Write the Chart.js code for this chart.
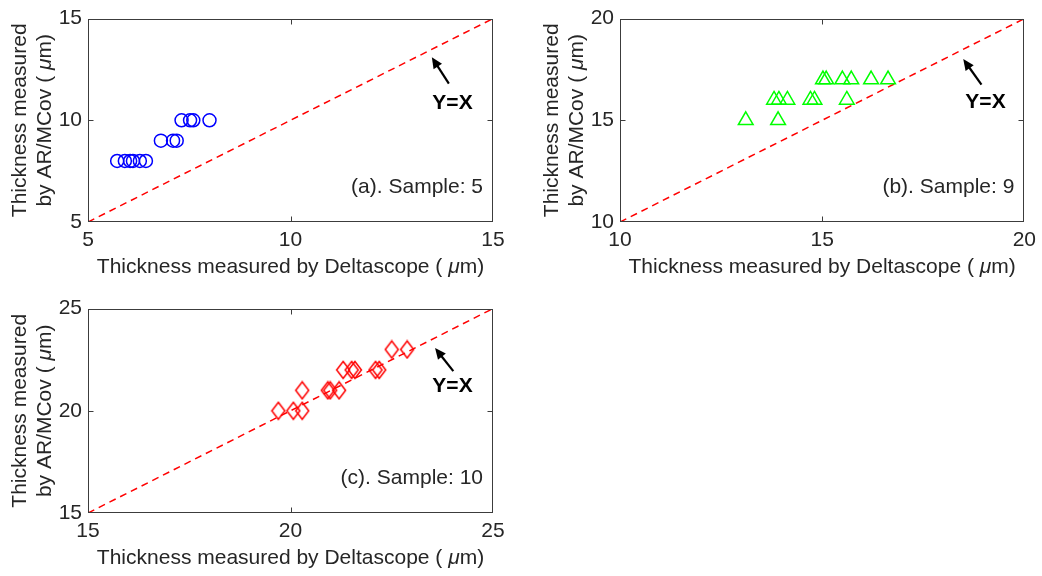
<!DOCTYPE html>
<html><head><meta charset="utf-8">
<script src="https://cdn.jsdelivr.net/npm/chart.js@4.4.1/dist/chart.umd.min.js"></script>
<style>
html,body{margin:0;padding:0;background:#fff;overflow:hidden;width:1042px;height:576px;}
.p{position:absolute;}
canvas{display:block;}
</style></head><body>
<div class="p" style="left:0;top:0;"><canvas id="ca" width="520" height="290"></canvas></div>
<div class="p" style="left:532px;top:0;"><canvas id="cb" width="510" height="290"></canvas></div>
<div class="p" style="left:0;top:290px;"><canvas id="cc" width="520" height="290"></canvas></div>
<script>
// ---- data ----
const sampleA_x = [5.72, 5.91, 6.04, 6.11, 6.28, 6.43, 6.8, 7.1, 7.19, 7.31, 7.52, 7.6, 8.0];
const sampleA_y = [8, 8, 8, 8, 8, 8, 9, 9, 9, 10, 10, 10, 10];
const sampleB_x = [13.11, 13.91, 13.81, 13.93, 14.14, 14.71, 14.81, 15.61, 15.02, 15.1, 15.5, 15.72, 16.21, 16.63];
const sampleB_y = [15, 15, 16, 16, 16, 16, 16, 16, 17, 17, 17, 17, 17, 17];
const sampleC_x = [19.70, 20.07, 20.29, 20.29, 20.92, 20.98, 21.2, 21.30, 21.51, 21.59, 22.1, 22.19, 22.5, 22.88];
const sampleC_y = [20, 20, 20, 21, 21, 21, 21, 22, 22, 22, 22, 22, 23, 23];
const ticksA = [5, 10, 15];
const ticksB = [10, 15, 20];
const ticksC = [15, 20, 25];
const labelA = '(a). Sample: 5';
const labelB = '(b). Sample: 9';
const labelC = '(c). Sample: 10';
const refLabel = 'Y=X';
// titles as segments: [text, italic]
const xTitle = [['Thickness measured by Deltascope (', false], [' \u03bc', true], ['m)', false]];
const yTitle1 = [['Thickness measured', false]];
const yTitle2 = [['by AR/MCov (', false], [' \u03bc', true], ['m)', false]];
// annotation anchors in data units: [arrow tail, arrow head, text]
const arrowA = [[13.91, 11.8], [13.49, 13.1], [14.0, 10.85]];
const arrowB = [[18.94, 16.75], [18.49, 18.01], [19.04, 15.9]];
const arrowC = [[24.02, 21.94], [23.57, 23.07], [24.0, 21.2]];

const FAM = "'Liberation Sans', Arial, Helvetica, sans-serif";
const TXT = '#262626';
const FS = 21;

function diamondImg(w, h, color, lw) {
  const c = document.createElement('canvas');
  c.width = Math.ceil(w + lw * 2); c.height = Math.ceil(h + lw * 2);
  const g = c.getContext('2d');
  const cx = c.width / 2, cy = c.height / 2;
  g.strokeStyle = color; g.lineWidth = lw;
  g.beginPath();
  g.moveTo(cx, cy - h / 2); g.lineTo(cx + w / 2, cy); g.lineTo(cx, cy + h / 2); g.lineTo(cx - w / 2, cy);
  g.closePath(); g.stroke();
  return c;
}

function drawSegs(ctx, segs, cx, cy) {
  const fonts = segs.map(s => (s[1] ? 'italic ' : '') + FS + 'px ' + FAM);
  let total = 0;
  const ws = segs.map((s, i) => { ctx.font = fonts[i]; const w = ctx.measureText(s[0]).width; total += w; return w; });
  let x = cx - total / 2;
  ctx.textAlign = 'left'; ctx.textBaseline = 'middle'; ctx.fillStyle = TXT;
  segs.forEach((s, i) => { ctx.font = fonts[i]; ctx.fillText(s[0], x, cy); x += ws[i]; });
}

const deco = {
  id: 'deco',
  afterDatasetsDraw(chart, args, o) {
    const {ctx, chartArea: a, scales: {x, y}} = chart;
    ctx.save();
    ctx.strokeStyle = '#3c3c3c'; ctx.lineWidth = 1;
    const L = Math.round(a.left) + 0.5, R = Math.round(a.right) - 0.5;
    const T = Math.round(a.top) + 0.5, B = Math.round(a.bottom) - 0.5;
    ctx.strokeRect(L, T, R - L, B - T);
    ctx.beginPath();
    x.ticks.forEach((t, i) => {
      if (i === 0 || i === x.ticks.length - 1) return;
      const px = Math.round(x.getPixelForValue(t.value)) + 0.5;
      ctx.moveTo(px, B); ctx.lineTo(px, B - 5);
      ctx.moveTo(px, T); ctx.lineTo(px, T + 5);
    });
    y.ticks.forEach((t, i) => {
      if (i === 0 || i === y.ticks.length - 1) return;
      const py = Math.round(y.getPixelForValue(t.value)) + 0.5;
      ctx.moveTo(L, py); ctx.lineTo(L + 5, py);
      ctx.moveTo(R, py); ctx.lineTo(R - 5, py);
    });
    ctx.stroke();
    // axis titles
    const cxm = (a.left + a.right) / 2, cym = (a.top + a.bottom) / 2;
    drawSegs(ctx, xTitle, cxm, a.bottom + 45.5);
    ctx.save(); ctx.translate(20, cym); ctx.rotate(-Math.PI / 2); drawSegs(ctx, yTitle1, 0, 0); ctx.restore();
    ctx.save(); ctx.translate(45, cym); ctx.rotate(-Math.PI / 2); drawSegs(ctx, yTitle2, 0, 0); ctx.restore();
    // sample label
    ctx.fillStyle = TXT;
    ctx.font = FS + 'px ' + FAM;
    ctx.textAlign = 'right'; ctx.textBaseline = 'middle';
    ctx.fillText(o.label, a.right - 10, a.bottom - 35);
    // arrow
    const [tl, hd, tp] = o.arrow;
    const x0 = x.getPixelForValue(tl[0]), y0 = y.getPixelForValue(tl[1]);
    const x1 = x.getPixelForValue(hd[0]), y1 = y.getPixelForValue(hd[1]);
    const ang = Math.atan2(y1 - y0, x1 - x0);
    const hl = 11, hw = 5;
    ctx.strokeStyle = '#000'; ctx.fillStyle = '#000'; ctx.lineWidth = 2.2;
    ctx.beginPath();
    ctx.moveTo(x0, y0);
    ctx.lineTo(x1 - Math.cos(ang) * hl * 0.8, y1 - Math.sin(ang) * hl * 0.8);
    ctx.stroke();
    ctx.beginPath();
    ctx.moveTo(x1, y1);
    ctx.lineTo(x1 - Math.cos(ang) * hl - Math.sin(ang) * hw, y1 - Math.sin(ang) * hl + Math.cos(ang) * hw);
    ctx.lineTo(x1 - Math.cos(ang) * hl + Math.sin(ang) * hw, y1 - Math.sin(ang) * hl - Math.cos(ang) * hw);
    ctx.closePath(); ctx.fill();
    ctx.fillStyle = '#000';
    ctx.font = 'bold ' + FS + 'px ' + FAM;
    ctx.textAlign = 'center'; ctx.textBaseline = 'middle';
    ctx.fillText(refLabel, x.getPixelForValue(tp[0]), y.getPixelForValue(tp[1]));
    ctx.restore();
  }
};

function panel(id, xs, ys, ticks, pt, label, arrow, padTop, xAxisH, padRight) {
  const font = {family: FAM, size: FS, lineHeight: 1.2};
  const pts = xs.map((v, i) => ({x: v, y: ys[i]}));
  const ref = [{x: ticks[0], y: ticks[0]}, {x: ticks[ticks.length - 1], y: ticks[ticks.length - 1]}];
  const mkScale = (isX) => ({
    type: 'linear',
    min: ticks[0], max: ticks[ticks.length - 1],
    afterBuildTicks: s => { s.ticks = ticks.map(v => ({value: v})); },
    afterFit: s => { if (isX) s.height = xAxisH; else s.width = 88; },
    grid: {display: false, drawTicks: false},
    border: {display: false},
    ticks: {font, color: TXT, padding: 6, maxRotation: 0, autoSkip: false},
    title: {display: false}
  });
  return new Chart(document.getElementById(id), {
    type: 'scatter',
    data: {
      datasets: [
        Object.assign({data: pts, showLine: false, order: 1, backgroundColor: 'rgba(0,0,0,0)'}, pt),
        {data: ref, showLine: true, borderColor: '#ff0000', borderWidth: 1.5, borderDash: [7, 5], pointRadius: 0, order: 2, fill: false}
      ]
    },
    options: {
      responsive: false, animation: false, devicePixelRatio: 1,
      layout: {padding: {top: padTop, right: padRight, left: 0, bottom: 0}},
      plugins: {legend: {display: false}, tooltip: {enabled: false}, deco: {label, arrow}},
      scales: {x: mkScale(true), y: mkScale(false)}
    },
    plugins: [deco]
  });
}

panel('ca', sampleA_x, sampleA_y, ticksA,
  {pointStyle: 'circle', pointRadius: 6.5, borderColor: '#0000ff', pointBorderWidth: 1.5, borderWidth: 1.5},
  labelA, arrowA, 16, 68, 27);
panel('cb', sampleB_x, sampleB_y, ticksB,
  {pointStyle: 'triangle', pointRadius: 8.5, borderColor: '#00ff00', pointBorderWidth: 1.5, borderWidth: 1.5},
  labelB, arrowB, 16, 68, 17);
panel('cc', sampleC_x, sampleC_y, ticksC,
  {pointStyle: diamondImg(13, 17, '#ff0000', 1.5), pointRadius: 8, borderColor: '#ff0000'},
  labelC, arrowC, 17, 67, 27);
</script>
</body></html>
